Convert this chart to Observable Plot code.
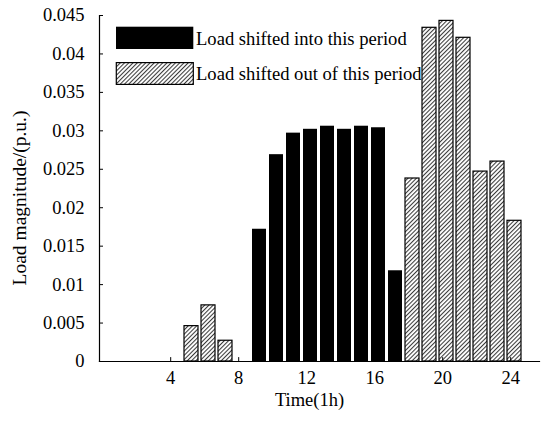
<!DOCTYPE html>
<html>
<head>
<meta charset="utf-8">
<script src="https://cdn.jsdelivr.net/npm/d3@7"></script>
<script src="https://cdn.jsdelivr.net/npm/@observablehq/plot@0.6"></script>
<style>
  body { margin: 0; background: #fff; }
  #wrap { position: relative; width: 550px; height: 421px; font-family: 'Times New Roman', 'Liberation Serif', serif; }
  #legend { position: absolute; left: 0; top: 0; }
  .lg { position: absolute; font-size: 18.6px; line-height: 1; white-space: nowrap; color: #000; }
</style>
</head>
<body>
<div id="wrap"></div>
<script>
const hours = d3.range(1, 25);
const shiftedIn  = [0,0,0,0,0,0,0,0,0.0172,0.0269,0.0297,0.0302,0.0306,0.0302,0.0306,0.0304,0.0118,0,0,0,0,0,0,0];
const shiftedOut = [0,0,0,0,0.0046,0.0073,0.0027,0,0,0,0,0,0,0,0,0,0,0.0238,0.0434,0.0443,0.0421,0.0247,0.0260,0.0183];
const xTicks = [4, 8, 12, 16, 20, 24];
const yTicks = d3.range(0, 0.0451, 0.005).map(v => +v.toFixed(3));
const seriesNames = ["Load shifted into this period", "Load shifted out of this period"];
const xLabel = "Time(1h)";
const yLabel = "Load magnitude/(p.u.)";

const rows = [];
hours.forEach((h, i) => {
  if (shiftedIn[i] > 0) rows.push({hour: h, value: shiftedIn[i], series: seriesNames[0]});
  if (shiftedOut[i] > 0) rows.push({hour: h, value: shiftedOut[i], series: seriesNames[1]});
});

function hatchDefs(id) {
  return () => {
    const defs = d3.create("svg:defs");
    const p = defs.append("pattern")
      .attr("id", id)
      .attr("patternUnits", "userSpaceOnUse")
      .attr("width", 3).attr("height", 10)
      .attr("patternTransform", "rotate(45)");
    p.append("rect").attr("width", 3).attr("height", 10).attr("fill", "#fff");
    p.append("line").attr("x1", 0.5).attr("x2", 0.5).attr("y1", 0).attr("y2", 10)
      .attr("stroke", "#3a3a3a").attr("stroke-width", 1.1);
    return defs.node();
  };
}

const fmt = d => d === 0 ? "0" : String(+d.toFixed(3));
const tickShape = {draw(ctx, l) { ctx.moveTo(0, 0); ctx.lineTo(0, -l); }};

const chart = Plot.plot({
  width: 550,
  height: 421,
  marginLeft: 99,
  marginRight: 11,
  marginTop: 15,
  marginBottom: 60,
  style: {fontFamily: "'Times New Roman', 'Liberation Serif', serif", fontSize: "18px", color: "#000", background: "#fff"},
  x: {type: "band", domain: hours, padding: 0.18, insetLeft: 11.6, insetRight: 12, axis: null},
  y: {domain: [0, 0.045]},
  marks: [
    hatchDefs("hatch"),
    Plot.barY(rows.filter(d => d.series === seriesNames[0]), {x: "hour", y: "value", fill: "#000"}),
    Plot.barY(rows.filter(d => d.series === seriesNames[1]), {x: "hour", y: "value", fill: "url(#hatch)", stroke: "#000", strokeWidth: 1.2}),
    Plot.frame({anchor: "left", stroke: "#000", strokeWidth: 1.2}),
    Plot.frame({anchor: "bottom", stroke: "#000", strokeWidth: 1.2}),
    Plot.axisY({ticks: yTicks, tickFormat: fmt, tickSize: 0, tickPadding: 15, label: null, fontSize: 18.5}),
    Plot.axisY({ticks: yTicks, text: null, tickSize: 4, dx: 4, label: null}),
    Plot.text(xTicks, {x: d => d, frameAnchor: "bottom", dx: -3.8, dy: 17, fontSize: 18.5, textAnchor: "middle", lineAnchor: "middle"}),
    Plot.vector(xTicks, {x: d => d, frameAnchor: "bottom", dx: -3.8, length: 4, rotate: 0, anchor: "start", shape: tickShape, stroke: "#000", strokeWidth: 1}),
    Plot.text([yLabel], {frameAnchor: "left", dx: -79.5, dy: 9.5, rotate: -90, fontSize: 19.5, textAnchor: "middle", lineAnchor: "middle"}),
    Plot.text([xLabel], {frameAnchor: "bottom", dx: -10, dy: 39, fontSize: 18.5, textAnchor: "middle", lineAnchor: "middle"})
  ]
});

const wrap = document.getElementById("wrap");
wrap.appendChild(chart);

// legend overlay
const legend = document.createElement("div");
legend.id = "legend";
const lsvg = d3.create("svg").attr("width", 550).attr("height", 100).style("position", "absolute").style("left", "0px").style("top", "0px");
lsvg.append(hatchDefs("hatchL"));
lsvg.append("rect").attr("x", 116).attr("y", 26.7).attr("width", 77.3).attr("height", 22.3).attr("fill", "#000");
lsvg.append("rect").attr("x", 116.3).attr("y", 62.6).attr("width", 77).attr("height", 21.8).attr("fill", "url(#hatchL)").attr("stroke", "#000").attr("stroke-width", 1.2);
legend.appendChild(lsvg.node());
[[seriesNames[0], 29.5], [seriesNames[1], 64.5]].forEach(([t, top]) => {
  const s = document.createElement("div");
  s.className = "lg";
  s.style.left = "196px";
  s.style.top = top + "px";
  s.textContent = t;
  legend.appendChild(s);
});
wrap.appendChild(legend);
</script>
</body>
</html>
